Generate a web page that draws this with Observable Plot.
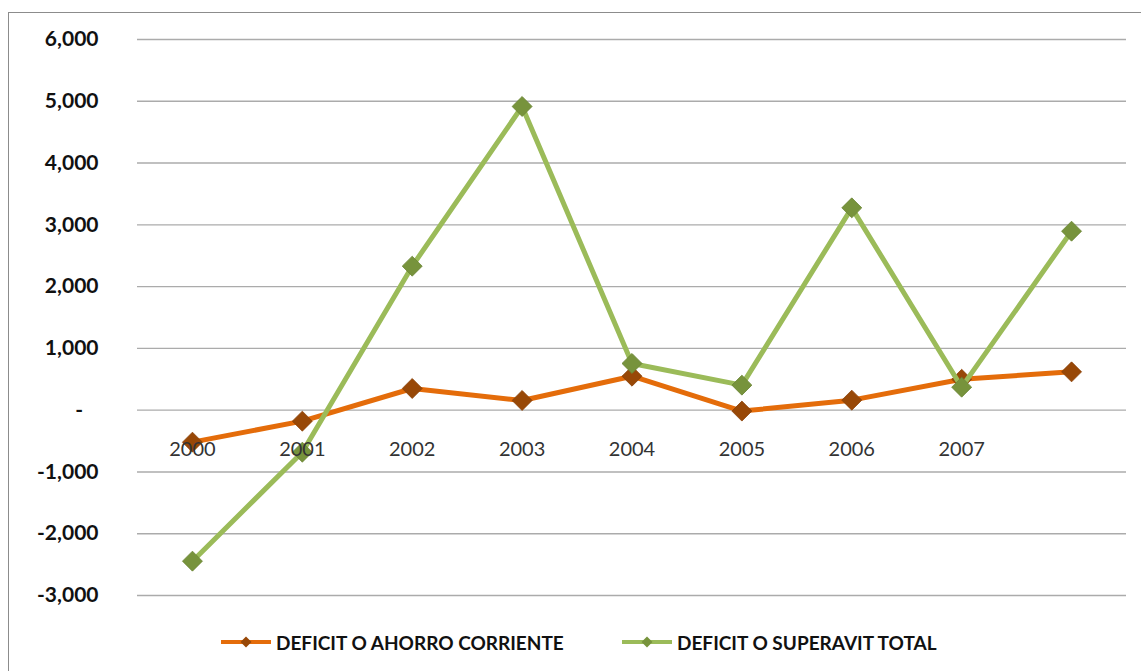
<!DOCTYPE html>
<html><head><meta charset="utf-8">
<script src="https://cdn.jsdelivr.net/npm/d3@7"></script>
<script src="https://cdn.jsdelivr.net/npm/@observablehq/plot@0.6"></script>
<style>
html,body{margin:0;padding:0;background:#fff;overflow:hidden;width:1141px;height:671px;}
#frame{position:absolute;left:8px;top:12px;width:1200px;height:700px;border-left:1px solid #8c8c8c;border-top:1px solid #8c8c8c;box-sizing:border-box;}
#chart{position:absolute;left:0;top:0;}
.leg{position:absolute;top:631px;height:22px;display:flex;align-items:center;font-family:Lato,"DejaVu Sans",sans-serif;font-weight:bold;font-size:19px;color:#111;white-space:nowrap;}
.leg svg{margin-right:5px;}
</style></head><body>
<div id="frame"></div>
<div id="chart"></div>
<div id="legend"></div>
<script>
const years = ["2000","2001","2002","2003","2004","2005","2006","2007","2008"];
const tickLabels = ["2000","2001","2002","2003","2004","2005","2006","2007",""];
const seriesNames = ["DEFICIT O AHORRO CORRIENTE","DEFICIT O SUPERAVIT TOTAL"];
const ahorroCorriente = [-518,-178,351,157,550,-15,162,500,620];
const superavitTotal = [-2444,-680,2331,4916,756,405,3275,372,2897];
const yTicks = [-3000,-2000,-1000,0,1000,2000,3000,4000,5000,6000];
const lineColors = ["#E46C0A","#9BBB59"];
const markerColors = ["#984807","#77933C"];
const markerStrokes = ["#8a4006","#6a8434"];

const rows = [];
[ahorroCorriente, superavitTotal].forEach((vals, s) => {
  vals.forEach((v, i) => rows.push({series: seriesNames[s], year: years[i], value: v}));
});
const numFmt = d3.formatLocale({decimal: ".", thousands: ",", grouping: [3], currency: ["$", ""], minus: "-"}).format(",");
const fmt = d => d === 0 ? "-\u00a0\u00a0\u00a0" : numFmt(d);

const plot = Plot.plot({
  width: 1141,
  height: 620,
  marginLeft: 137,
  marginRight: 15,
  marginTop: 39,
  marginBottom: 25,
  style: {background: "transparent", overflow: "visible"},
  x: {type: "point", domain: years, padding: 0.5, round: false, axis: null},
  y: {domain: [-3000, 6000], axis: null, label: null},
  marks: [
    Plot.ruleY(yTicks, {stroke: "#ababab", strokeWidth: 1.4}),
    Plot.axisY({ticks: yTicks, tickFormat: fmt, tickSize: 0, tickPadding: 39, label: null,
      fontSize: 21, fontWeight: "bold", fontFamily: "Lato", fill: "#111"}),
    ...seriesNames.map((name, s) => [
      Plot.line(rows.filter(r => r.series === name), {x: "year", y: "value", stroke: lineColors[s], strokeWidth: 5, strokeLinejoin: "round"}),
      Plot.dot(rows.filter(r => r.series === name), {x: "year", y: "value", symbol: "diamond2", r: 9, fill: markerColors[s], stroke: markerStrokes[s], strokeWidth: 0.8})
    ]).flat(),
    Plot.text(years, {x: d => d, y: () => 0, text: (d, i) => tickLabels[i], dy: 39,
      fontSize: 20, fontFamily: "Lato", fill: "#333"})
  ]
});
document.getElementById("chart").appendChild(plot);

const legPos = [221, 622];
const legend = document.getElementById("legend");
seriesNames.forEach((name, s) => {
  const d = document.createElement("div");
  d.className = "leg";
  d.style.left = legPos[s] + "px";
  d.innerHTML = `<svg width="50" height="14"><line x1="0" x2="50" y1="7" y2="7" stroke="${lineColors[s]}" stroke-width="4"/><path d="M25,1.5L30.5,7L25,12.5L19.5,7Z" fill="${markerColors[s]}"/></svg><span>${name}</span>`;
  legend.appendChild(d);
});
</script>
</body></html>
